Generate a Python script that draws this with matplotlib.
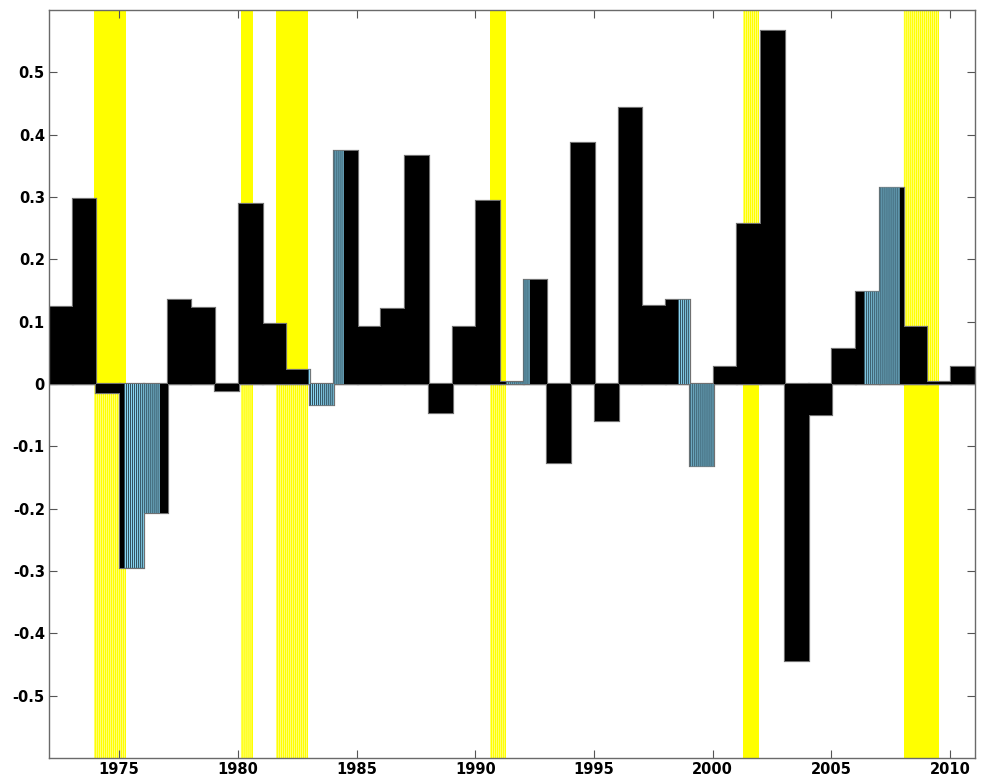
import numpy as np
import matplotlib
matplotlib.use('Agg')
import matplotlib.pyplot as plt

plt.rcParams['axes.unicode_minus'] = False

# Dados anuais (valor constante ao longo de cada ano)
anos = np.arange(1972, 2011)
valores = [0.123, 0.296, -0.015, -0.295, -0.207, 0.134, 0.122, -0.012, 0.289, 0.097,
           0.023, -0.034, 0.374, 0.091, 0.120, 0.366, -0.046, 0.092, 0.293, 0.003,
           0.167, -0.127, 0.387, -0.060, 0.443, 0.125, 0.135, -0.132, 0.027, 0.257,
           0.566, -0.445, -0.050, 0.056, 0.148, 0.315, 0.091, 0.003, 0.027]

# Periodos destacados em azul (ano, mes) inicio e fim
azul_inicio = [(1975, 3), (1982, 12), (1991, 4), (1998, 7), (2006, 5)]
azul_fim = [(1976, 8), (1984, 5), (1992, 3), (1999, 12), (2007, 10)]

# Recessoes (meses inclusivos)
rec_inicio = [(1973, 12), (1980, 2), (1981, 8), (1990, 8), (2001, 4), (2008, 1)]
rec_fim = [(1975, 3), (1980, 7), (1982, 11), (1991, 3), (2001, 11), (2009, 6)]
rec_cima = ['solido', 'solido', 'solido', 'solido', 'listrado', 'listrado']
rec_baixo = ['listrado', 'listrado', 'listrado', 'listrado', 'solido', 'solido']

ymin, ymax = -0.6, 0.6
mes = 1.0 / 12


def t(ano, m):
    return ano + m / 12.0


# Serie mensal
tm = np.array([t(a, m) for a in anos for m in range(1, 13)])
vm = np.repeat(valores, 12)
azul = np.zeros(len(tm), dtype=bool)
for ini, fim in zip(azul_inicio, azul_fim):
    azul |= (tm >= t(*ini) - 1e-9) & (tm <= t(*fim) + 1e-9)

fig = plt.figure(figsize=(9.87, 7.80), dpi=100)
ax = fig.add_axes([0.0496, 0.0282, 0.938, 0.959])

# Faixas amarelas das recessoes
for ini, fim, cima, baixo in zip(rec_inicio, rec_fim, rec_cima, rec_baixo):
    meses = tm[(tm >= t(*ini) - 1e-9) & (tm <= t(*fim) + 1e-9)]
    for base, altura, estilo in [(0, ymax, cima), (ymin, -ymin, baixo)]:
        ax.bar(meses[0] - mes / 2, altura, width=len(meses) * mes, bottom=base,
               align='edge', color='#ffff00', linewidth=0, zorder=1)
        if estilo == 'listrado':
            ax.bar(meses - mes / 2, altura, width=0.3 * mes, bottom=base,
                   align='edge', color='#ffffc0', linewidth=0, snap=False,
                   zorder=1.1)

# Barras anuais pretas (contorno cinza so por fora)
ax.bar(anos + mes / 2, valores, width=1.0, align='edge', color='black',
       edgecolor='#707070', linewidth=1.6, zorder=2)
ax.bar(anos + mes / 2, valores, width=1.0, align='edge', color='black',
       linewidth=0, zorder=2.1)

# Meses destacados em azul listrado
ax.bar(tm[azul], vm[azul], width=mes, color='#88d4f2', linewidth=0,
       snap=False, zorder=3)
ax.bar(tm[azul] - mes / 2, vm[azul], width=0.38 * mes, align='edge',
       color='#1a2c34', linewidth=0, snap=False, zorder=3.1)

ax.axhline(0, color='#7a7a7a', linewidth=1.0, zorder=1.5)

ax.set_xlim(1972 + mes / 2, 2011 + mes / 2)
ax.set_ylim(ymin, ymax)
ax.set_xticks(np.arange(1975, 2011, 5))
ax.set_yticks([k / 10 for k in range(-5, 6)])
ax.set_yticklabels(['%g' % (k / 10) for k in range(-5, 6)])

for s in ax.spines.values():
    s.set_color('#6a6a6a')
    s.set_linewidth(1.0)
    s.set_zorder(5)
ax.tick_params(direction='in', length=6, width=0.8, color='#555555', top=True,
               right=True, pad=3, labelsize=10.5)
for lb in ax.get_xticklabels() + ax.get_yticklabels():
    lb.set_fontweight('bold')
    lb.set_family('DejaVu Sans')

fig.savefig('out.png', dpi=100)
